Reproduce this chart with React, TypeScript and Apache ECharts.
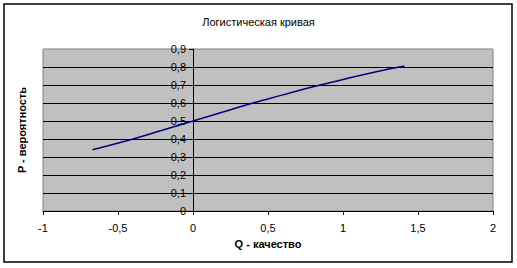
import React, { useEffect, useRef } from "react";
import * as echarts from "echarts";

const title = "Логистическая кривая";
const xName = "Q - качество";
const yName = "P - вероятность";
const qValues = [-0.67, -0.4, -0.2, 0, 0.2, 0.4, 0.6, 0.8, 1.0, 1.2, 1.41];
const pValues = [0.34, 0.4, 0.45, 0.5, 0.55, 0.6, 0.645, 0.69, 0.73, 0.77, 0.805];

const FONT = "'Liberation Sans', Arial, sans-serif";
const fmt = (v: number) => String(Math.round(v * 10) / 10).replace(".", ",");

const GRID_LEFT = 43;
const GRID_RIGHT = 24;
const WIDTH = 517;

export default function App() {
  const ref = useRef<HTMLDivElement>(null);
  useEffect(() => {
    if (!ref.current) return;
    const chart = echarts.init(ref.current, undefined, { renderer: "svg" });
    const plotW = WIDTH - GRID_LEFT - GRID_RIGHT;
    const zeroOffset = (plotW * (0 - -1)) / (2 - -1);
    chart.setOption({
      animation: false,
      backgroundColor: "#ffffff",
      textStyle: { fontFamily: FONT },
      title: {
        text: title,
        left: "center",
        top: 11,
        textStyle: { fontSize: 11, fontWeight: "normal", color: "#000", fontFamily: FONT },
      },
      graphic: [
        {
          type: "rect",
          shape: { x: 4, y: 4, width: 508, height: 258 },
          style: { fill: "none", stroke: "#000", lineWidth: 1.5 },
          z: 100,
        },
        {
          type: "text",
          x: 22,
          y: 130,
          rotation: Math.PI / 2,
          style: {
            text: yName,
            fill: "#000",
            font: `bold 11px ${FONT}`,
            align: "center",
            verticalAlign: "middle",
          },
        },
      ],
      grid: {
        left: GRID_LEFT,
        right: GRID_RIGHT,
        top: 49,
        bottom: 57,
        containLabel: false,
        outerBoundsMode: "none",
        show: true,
        backgroundColor: "#C0C0C0",
        borderColor: "#808080",
        borderWidth: 1,
      },
      xAxis: {
        type: "value",
        min: -1,
        max: 2,
        interval: 0.5,
        name: xName,
        nameLocation: "middle",
        nameGap: 27,
        nameTextStyle: { fontSize: 11, fontWeight: "bold", color: "#000", fontFamily: FONT },
        axisLine: { onZero: false, lineStyle: { color: "#000", width: 1 } },
        axisTick: { show: true, length: 4, lineStyle: { color: "#000" } },
        axisLabel: { fontSize: 11, color: "#000", margin: 11, formatter: fmt, fontFamily: FONT },
        splitLine: { show: false },
      },
      yAxis: {
        type: "value",
        min: 0,
        max: 0.9,
        interval: 0.1,
        position: "left",
        offset: -zeroOffset,
        axisLine: { show: true, onZero: false, lineStyle: { color: "#000", width: 1 } },
        axisTick: { show: true, length: 4, lineStyle: { color: "#000" } },
        axisLabel: { fontSize: 11, color: "#000", margin: 7, formatter: fmt, fontFamily: FONT },
        splitLine: { show: true, showMaxLine: false, lineStyle: { color: "#000", width: 1 } },
      },
      series: [
        {
          type: "line",
          data: qValues.map((q, i) => [q, pValues[i]]),
          showSymbol: false,
          symbol: "none",
          smooth: true,
          lineStyle: { color: "#000080", width: 1.5 },
        },
      ],
    });
    return () => chart.dispose();
  }, []);
  return (
    <div
      ref={ref}
      style={{ position: "fixed", left: 0, top: 0, width: 517, height: 268 }}
    />
  );
}
